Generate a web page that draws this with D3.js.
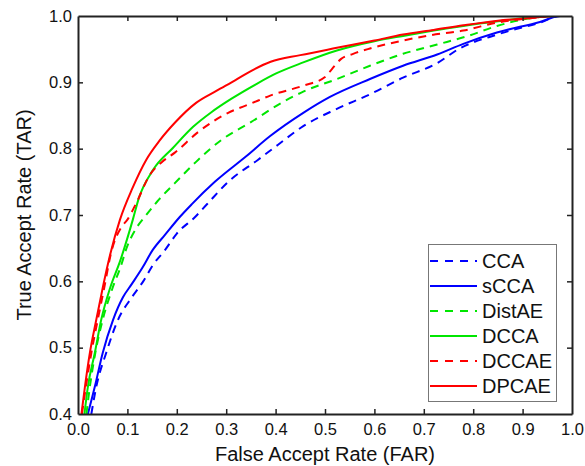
<!DOCTYPE html>
<html>
<head>
<meta charset="utf-8">
<script src="https://cdn.jsdelivr.net/npm/d3@7"></script>
<style>
  html, body { margin: 0; padding: 0; background: #fff; }
  svg { display: block; font-family: "Liberation Sans", Arial, sans-serif; }
</style>
</head>
<body>
<svg id="chart" width="585" height="466"></svg>
<script>
// ROC curves: False Accept Rate (x) vs True Accept Rate (y)
const seriesNames = ["CCA", "sCCA", "DistAE", "DCCA", "DCCAE", "DPCAE"];

const ccaFAR = [0.027,0.037,0.057,0.081,0.109,0.132,0.152,0.176,0.200,0.237,0.262,0.304,0.364,0.405,0.456,0.524,0.591,0.658,0.727,0.770,0.848,0.935,0.976,1.0];
const ccaTAR = [0.400,0.441,0.492,0.542,0.576,0.600,0.625,0.647,0.672,0.697,0.717,0.750,0.783,0.806,0.834,0.860,0.882,0.907,0.929,0.950,0.972,0.990,1.000,1.0];

const sccaFAR = [0.020,0.034,0.050,0.071,0.091,0.108,0.130,0.151,0.176,0.206,0.230,0.277,0.338,0.389,0.456,0.510,0.591,0.658,0.727,0.780,0.848,0.935,0.976,1.0];
const sccaTAR = [0.400,0.441,0.492,0.542,0.576,0.595,0.620,0.647,0.670,0.697,0.716,0.750,0.787,0.819,0.854,0.878,0.905,0.925,0.942,0.958,0.975,0.991,1.000,1.0];

const distaeFAR = [0.017,0.024,0.035,0.050,0.070,0.089,0.095,0.118,0.135,0.160,0.196,0.243,0.290,0.350,0.405,0.456,0.524,0.591,0.658,0.727,0.790,0.848,0.930,0.970,1.0];
const distaeTAR = [0.400,0.441,0.492,0.542,0.590,0.628,0.643,0.680,0.697,0.720,0.748,0.783,0.813,0.840,0.866,0.886,0.905,0.925,0.943,0.957,0.970,0.985,0.998,1.000,1.0];

const dccaFAR = [0.013,0.020,0.034,0.047,0.065,0.085,0.111,0.123,0.152,0.192,0.233,0.270,0.310,0.360,0.400,0.456,0.524,0.600,0.658,0.720,0.780,0.850,0.920,0.960,1.0];
const dccaTAR = [0.400,0.441,0.492,0.542,0.590,0.630,0.693,0.725,0.768,0.801,0.833,0.855,0.875,0.897,0.913,0.930,0.948,0.962,0.970,0.978,0.985,0.992,0.998,1.000,1.0];

const dccaeFAR = [0.008,0.016,0.027,0.040,0.053,0.067,0.088,0.100,0.118,0.145,0.170,0.196,0.243,0.304,0.350,0.389,0.456,0.500,0.514,0.532,0.557,0.591,0.658,0.713,0.780,0.848,0.920,0.970,1.0];
const dccaeTAR = [0.400,0.441,0.492,0.542,0.590,0.643,0.682,0.693,0.718,0.760,0.780,0.794,0.825,0.854,0.868,0.880,0.895,0.908,0.920,0.935,0.943,0.951,0.963,0.971,0.978,0.990,0.997,1.000,1.0];

const dpcaeFAR = [0.007,0.014,0.024,0.037,0.050,0.065,0.085,0.110,0.138,0.165,0.196,0.239,0.280,0.318,0.350,0.390,0.450,0.524,0.600,0.658,0.720,0.780,0.850,0.915,0.960,1.0];
const dpcaeTAR = [0.400,0.441,0.492,0.542,0.590,0.640,0.693,0.740,0.783,0.812,0.839,0.869,0.887,0.903,0.917,0.931,0.941,0.952,0.963,0.972,0.979,0.986,0.993,0.997,1.000,1.0];

const seriesFAR = [ccaFAR, sccaFAR, distaeFAR, dccaFAR, dccaeFAR, dpcaeFAR];
const seriesTAR = [ccaTAR, sccaTAR, distaeTAR, dccaTAR, dccaeTAR, dpcaeTAR];
const seriesColors = ["#0000ff", "#0000ff", "#00e600", "#00e600", "#ff0000", "#ff0000"];
const seriesDashed = [true, false, true, false, true, false];

const xTicks = [0.0,0.1,0.2,0.3,0.4,0.5,0.6,0.7,0.8,0.9,1.0];
const yTicks = [0.4,0.5,0.6,0.7,0.8,0.9,1.0];

const svg = d3.select("#chart");
const plotLeft = 78, plotRight = 572, plotTop = 16, plotBottom = 414;

const x = d3.scaleLinear().domain([0, 1]).range([plotLeft, plotRight]);
const y = d3.scaleLinear().domain([0.4, 1.0]).range([plotBottom, plotTop]);

svg.append("defs").append("clipPath").attr("id", "plotClip")
  .append("rect").attr("x", plotLeft).attr("y", plotTop)
  .attr("width", plotRight - plotLeft).attr("height", plotBottom - plotTop);

// curves
const line = d3.line()
  .x(d => x(d[0]))
  .y(d => y(d[1]))
  .curve(d3.curveMonotoneX);

const curves = svg.append("g").attr("clip-path", "url(#plotClip)");
seriesNames.forEach((name, i) => {
  const pts = seriesFAR[i].map((f, k) => [f, seriesTAR[i][k]]);
  curves.append("path")
    .datum(pts)
    .attr("d", line)
    .attr("fill", "none")
    .attr("stroke", seriesColors[i])
    .attr("stroke-width", 2)
    .attr("stroke-dasharray", seriesDashed[i] ? "8,6" : null);
});

// axes with inward ticks on all four sides
const tickFont = "16.5px";
const axisColor = "#222";

const xAxisB = svg.append("g").attr("transform", `translate(0,${plotBottom})`)
  .call(d3.axisBottom(x).tickValues(xTicks).tickFormat(d3.format(".1f")).tickSizeInner(-5).tickSizeOuter(0).tickPadding(9));
const xAxisT = svg.append("g").attr("transform", `translate(0,${plotTop})`)
  .call(d3.axisTop(x).tickValues(xTicks).tickFormat("").tickSizeInner(-5).tickSizeOuter(0));
const yAxisL = svg.append("g").attr("transform", `translate(${plotLeft},0)`)
  .call(d3.axisLeft(y).tickValues(yTicks).tickFormat(d3.format(".1f")).tickSizeInner(-5).tickSizeOuter(0).tickPadding(6));
const yAxisR = svg.append("g").attr("transform", `translate(${plotRight},0)`)
  .call(d3.axisRight(y).tickValues(yTicks).tickFormat("").tickSizeInner(-5).tickSizeOuter(0));

[xAxisB, xAxisT, yAxisL, yAxisR].forEach(g => {
  g.select(".domain").attr("stroke", axisColor).attr("stroke-width", 2);
  g.selectAll(".tick line").attr("stroke", axisColor).attr("stroke-width", 1.5);
  g.selectAll(".tick text")
    .attr("fill", "#111")
    .style("font-size", tickFont)
    .style("font-family", "'Liberation Sans', Arial, sans-serif");
});
// hide the end ticks that sit on the frame
xAxisB.selectAll(".tick line").filter(d => d === 0 || d === 1).remove();
xAxisT.selectAll(".tick line").filter(d => d === 0 || d === 1).remove();
yAxisL.selectAll(".tick line").filter(d => d === 0.4 || d === 1.0).remove();
yAxisR.selectAll(".tick line").filter(d => d === 0.4 || d === 1.0).remove();

// axis titles
svg.append("text")
  .attr("x", (plotLeft + plotRight) / 2)
  .attr("y", 461)
  .attr("text-anchor", "middle")
  .attr("fill", "#111")
  .style("font-size", "20px")
  .text("False Accept Rate (FAR)");

svg.append("text")
  .attr("transform", `translate(31,${(plotTop + plotBottom) / 2}) rotate(-90)`)
  .attr("text-anchor", "middle")
  .attr("fill", "#111")
  .style("font-size", "20px")
  .text("True Accept Rate (TAR)");

// legend
const legend = svg.append("g");
legend.append("rect")
  .attr("x", 428.5).attr("y", 244.5)
  .attr("width", 128).attr("height", 157)
  .attr("fill", "#fff")
  .attr("stroke", "#777")
  .attr("stroke-width", 1);

const legendY = d3.scalePoint().domain(seriesNames).range([261, 386]);
seriesNames.forEach((name, i) => {
  const cy = legendY(name);
  legend.append("line")
    .attr("x1", 430).attr("x2", 477)
    .attr("y1", cy).attr("y2", cy)
    .attr("stroke", seriesColors[i])
    .attr("stroke-width", 2)
    .attr("stroke-dasharray", seriesDashed[i] ? "8,7" : null);
  legend.append("text")
    .attr("x", 482).attr("y", cy)
    .attr("dy", "0.36em")
    .attr("fill", "#111")
    .style("font-size", "20px")
    .text(name);
});
</script>
</body>
</html>
